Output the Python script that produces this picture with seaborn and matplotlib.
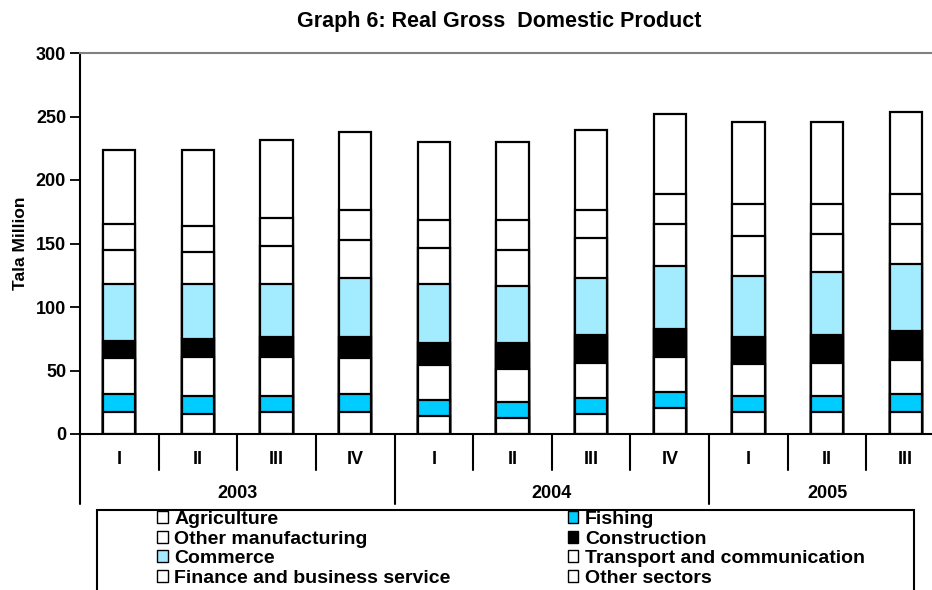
import pandas as pd
import matplotlib.pyplot as plt
import matplotlib.transforms as mtransforms
from matplotlib.patches import Rectangle
import seaborn as sns

# ================= DATA (Tala million) =================
quarters = ["I", "II", "III", "IV", "I", "II", "III", "IV", "I", "II", "III"]
years = ["2003"] * 4 + ["2004"] * 4 + ["2005"] * 3

agriculture = [17.1, 15.7, 17.1, 17.1, 14.4, 12.8, 16.0, 20.7, 17.1, 17.1, 17.1]
fishing = [14.4, 14.5, 13.1, 14.4, 12.6, 12.4, 12.6, 12.6, 13.1, 13.1, 14.6]
other_manufacturing = [28.1, 30.7, 30.7, 28.1, 27.6, 26.2, 27.5, 27.6, 24.7, 25.9, 26.3]
construction = [13.9, 13.9, 15.2, 16.5, 17.1, 20.3, 21.9, 21.8, 21.5, 21.9, 23.1]
commerce = [44.8, 43.5, 42.2, 47.0, 46.6, 45.1, 45.1, 49.8, 48.2, 49.8, 53.0]
transport = [26.6, 25.0, 30.0, 29.9, 28.4, 28.3, 31.5, 33.1, 31.5, 29.9, 31.5]
finance = [20.5, 20.5, 22.0, 23.6, 22.0, 23.6, 22.0, 23.6, 25.2, 23.6, 23.6]
other_sectors = [58.2, 59.8, 61.2, 61.2, 61.2, 61.2, 63.0, 63.0, 64.4, 64.4, 64.3]

sectores = ["Agriculture", "Fishing", "Other manufacturing", "Construction",
            "Commerce", "Transport and communication",
            "Finance and business service", "Other sectors"]
valores = [agriculture, fishing, other_manufacturing, construction,
           commerce, transport, finance, other_sectors]
colores = ["white", "#00CCFF", "white", "black", "#A3EBFF", "white", "white", "white"]

# ================= ESTILO =================
sns.set_style("white")
plt.rcParams['font.family'] = ['Liberation Sans', 'DejaVu Sans']
plt.rcParams['font.weight'] = 'bold'
for clave in ['text.color', 'axes.labelcolor', 'xtick.color', 'ytick.color']:
    plt.rcParams[clave] = 'black'

W, H = 932, 590
fig = plt.figure(figsize=(W / 100, H / 100), dpi=100)
ax = fig.add_axes([80 / W, 1 - 434 / H, (945 - 80) / W, (434 - 53) / H])

periodos = [f"{y} {q}" for y, q in zip(years, quarters)]
df = pd.DataFrame({"Periodo": periodos})
acumulado = [0.0] * len(periodos)
for nombre, vals in zip(sectores, valores):
    acumulado = [a + v for a, v in zip(acumulado, vals)]
    df[nombre] = acumulado

# barras apiladas: se dibuja el total primero y luego cada nivel inferior encima
for nombre, color in reversed(list(zip(sectores, colores))):
    sns.barplot(data=df, x="Periodo", y=nombre, order=periodos, color=color,
                saturation=1, edgecolor="black", linewidth=1.6, width=0.41,
                errorbar=None, ax=ax)

ax.set_ylim(0, 300)
ax.set_xlim(-0.5, len(periodos) - 0.5)
ax.set_yticks(range(0, 301, 50))
ax.tick_params(axis='y', direction='out', length=7, width=1.3, pad=3,
               labelsize=13, left=True)
for lbl in ax.get_yticklabels():
    lbl.set_fontweight('bold')
ax.set_xticks([])
ax.set_xlabel("")
ax.set_ylabel("Tala Million", fontsize=12.5, fontweight='bold', labelpad=6)

for lado in ["left", "bottom"]:
    ax.spines[lado].set_color("black")
    ax.spines[lado].set_linewidth(1.5)
ax.spines["top"].set_color("#808080")
ax.spines["top"].set_linewidth(1.5)
ax.spines["right"].set_visible(False)

# ================= EJE X DE DOS NIVELES =================
trans = mtransforms.blended_transform_factory(ax.transData, ax.transAxes)
alto = 434 - 53
y_q = -(470 - 434) / alto
y_y = -(504 - 434) / alto
cambios_anio = [i for i in range(1, len(years)) if years[i] != years[i - 1]]
for i in range(1, len(periodos)):
    fondo = y_y if i in cambios_anio else y_q
    ax.plot([i - 0.5, i - 0.5], [0, fondo], color="black", lw=1.5,
            transform=trans, clip_on=False)
ax.plot([-0.5, -0.5], [0, y_y], color="black", lw=1.5, transform=trans, clip_on=False)

for i, q in enumerate(quarters):
    ax.text(i, -(459 - 434) / alto, q, transform=trans, ha="center", va="center",
            fontsize=13, fontweight="bold")

inicio = 0
for fin in cambios_anio + [len(years)]:
    ax.text((inicio + fin - 1) / 2, -(494 - 434) / alto, years[inicio], transform=trans,
            ha="center", va="center", fontsize=13, fontweight="bold")
    inicio = fin

# ================= TITULO =================
fig.text(499 / W, 1 - 22 / H, "Graph 6: Real Gross  Domestic Product",
         ha="center", va="center", fontsize=15.5, fontweight="bold")

# ================= LEYENDA =================
orden = [0, 2, 4, 6, 1, 3, 5, 7]
handles = [Rectangle((0, 0), 1, 1, facecolor=colores[k], edgecolor="black", lw=1)
           for k in orden]
labels = [sectores[k] for k in orden]
fig.legend(handles, labels, ncol=2, loc="upper left",
           bbox_to_anchor=(157 / W, 1 - 511 / H), frameon=False,
           handlelength=0.55, handleheight=0.55, handletextpad=0.35,
           labelspacing=0.13, columnspacing=6.0, borderpad=0, borderaxespad=0,
           prop={"size": 14, "weight": "bold"})
fig.add_artist(Rectangle((97 / W, -0.05), (914 - 97) / W, (1 - 510 / H) + 0.05,
                         transform=fig.transFigure, fill=False,
                         edgecolor="black", lw=1.5))

fig.savefig("out.png", dpi=100)
